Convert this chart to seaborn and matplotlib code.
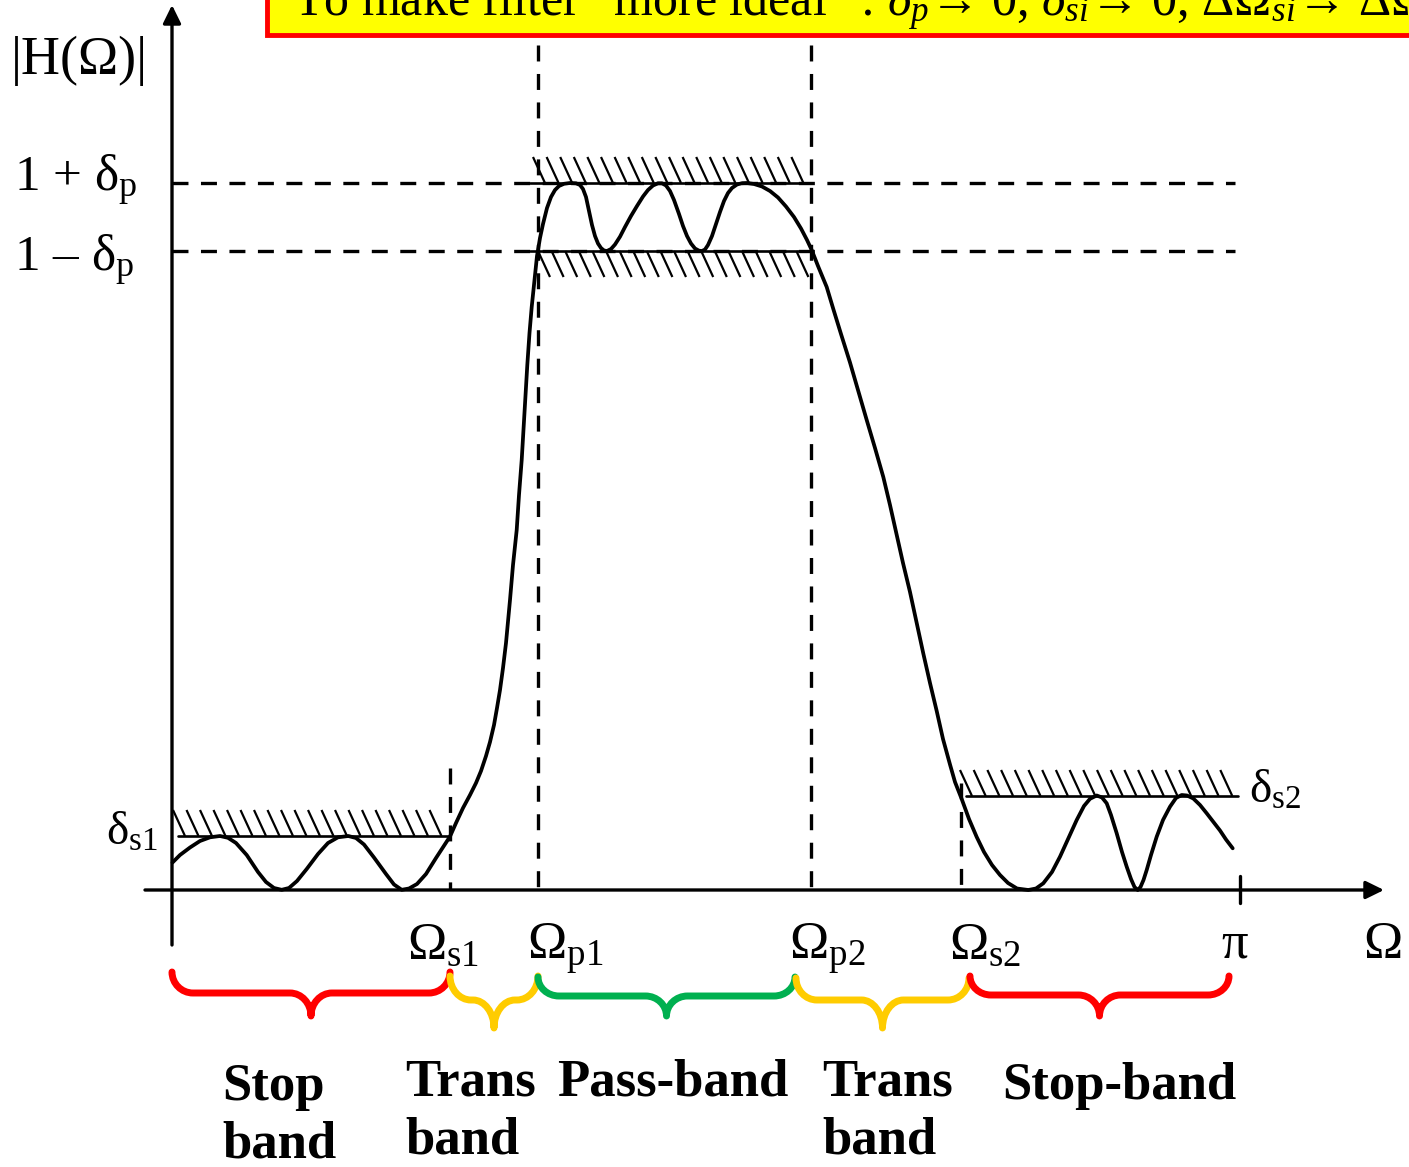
import numpy as np
import pandas as pd
import matplotlib
matplotlib.use("Agg")
import matplotlib.pyplot as plt
import seaborn as sns
from matplotlib.path import Path
from matplotlib.patches import PathPatch, Rectangle
from matplotlib.collections import LineCollection

# ---------------- data (canvas units: x right, y down) ----------------
stop1_x = [172.5, 180, 190, 200, 210, 220, 228, 236, 246.7, 258, 266, 274, 281.7, 289, 297,
           306.7, 318, 328, 338, 348.3, 356, 364, 374, 386, 394, 401.7, 409, 417, 426, 436]
stop1_y = [862.5, 855, 847.5, 841, 837.3, 836, 837.8, 843, 855, 872, 882, 888, 889.8, 888,
           881, 869, 854, 843, 837.3, 836, 838, 844.5, 857.5, 874, 884.5, 889.8, 888.5,
           884, 874, 858]
trans1_x = [450, 456, 463, 470, 476, 481, 486, 490, 494, 497, 500, 503, 506, 510, 513,
            516.7, 519, 521.7, 524.5, 527.3, 529.5, 531.7, 534.5]
trans1_y = [836.5, 823, 808, 795, 783, 771, 756, 742, 725, 708, 690, 668, 643, 600, 565,
            530, 495, 460, 412, 365, 333, 307, 280]
pass_x = [537, 540, 543, 547, 551, 555, 559, 564, 570, 576, 580, 583, 586, 589, 592, 595,
          598, 601, 604, 607, 611, 615, 620, 625, 631, 637, 643, 648, 653, 658, 662, 666,
          670, 674, 679, 683, 687, 691, 695, 699, 702, 705, 708, 712, 716, 720, 724, 728,
          732, 737, 742, 747, 754, 762, 770, 778, 786, 794, 801, 807, 811.7, 818, 826.7]
pass_y = [256, 238, 224, 208, 197, 190, 186, 183.8, 183, 183.3, 185, 189, 197, 211, 225,
          236, 243.5, 248, 250.5, 251, 249, 244.5, 236.7, 227, 216, 206, 196.5, 190, 185.5,
          183.3, 183.3, 185.5, 191, 200, 214, 226, 236, 243.5, 248.5, 250.7, 251, 249.5,
          245, 236, 224, 212, 201, 193, 188, 184.5, 183.2, 183, 184, 186.5, 191, 197.5,
          206.5, 217, 228.5, 240, 250, 266, 287]
trans2_x = [833.3, 841, 850, 858, 866.7, 875, 883.3, 890, 896.7, 903, 910, 916.5, 923.3,
            930, 936.7, 943, 950, 955]
trans2_y = [309, 334, 362.5, 390, 420, 448, 477, 505, 534.8, 563, 592, 622, 653.5, 683,
            711, 739, 764.5, 782]
stop2_x = [961.7, 969, 976.7, 984, 992, 1000, 1008, 1017, 1028.3, 1036, 1043.3, 1052, 1060,
           1068, 1076.7, 1084, 1090, 1096.7, 1102, 1106.7, 1111, 1116.7, 1122, 1126.7, 1131,
           1134.5, 1137.7, 1140.5, 1143.5, 1146.7, 1151, 1156.7, 1163, 1170, 1176, 1181.7,
           1187, 1193.3, 1200, 1206.7, 1213, 1220, 1226, 1232.7]
stop2_y = [799, 819, 837, 852, 865, 875, 883, 888.5, 890, 888.5, 883.3, 872, 856.7, 839,
           820, 806, 798.8, 795.5, 797.5, 803.3, 815, 833.3, 852, 866.7, 879, 887, 890, 887,
           880, 870, 855, 836.7, 820, 806.7, 798, 795, 795.5, 798.5, 805, 813.3, 821.5,
           830.5, 839.5, 848.3]

curve_x = stop1_x + trans1_x + pass_x + trans2_x + stop2_x
curve_y = stop1_y + trans1_y + pass_y + trans2_y + stop2_y

# band edge positions
omega_s1, omega_p1, omega_p2, omega_s2, omega_pi = 450, 538, 811, 961, 1240
level_pass_hi, level_pass_lo = 183, 251
level_stop1, level_stop2 = 836, 796
axis_y, axis_x = 890, 172

band_labels = ["Stop\nband", "Trans\nband", "Pass-band", "Trans\nband", "Stop-band"]
band_colors = ["#FF0000", "#FFCC00", "#00B050", "#FFCC00", "#FF0000"]

# ---------------- style ----------------
sns.set_theme(style="white")
plt.rcParams["font.family"] = ["Liberation Serif", "DejaVu Serif"]
plt.rcParams["text.color"] = "black"
plt.rcParams["mathtext.fontset"] = "custom"
plt.rcParams["mathtext.rm"] = "Liberation Serif"
plt.rcParams["mathtext.it"] = "Liberation Serif:italic"
plt.rcParams["mathtext.bf"] = "Liberation Serif:bold"
plt.rcParams["lines.scale_dashes"] = False

fig = plt.figure(figsize=(14.09, 11.67), dpi=100)
ax = fig.add_axes([0, 0, 1, 1])
ax.set_xlim(0, 1409)
ax.set_ylim(1167, 0)
ax.axis("off")

LW = 2.4
DASH = (11.5, 9.0)

# banner
ax.add_patch(Rectangle((267, -30), 1300, 65, facecolor="#FFFF00", edgecolor="#FF0000",
                       lw=3.5, zorder=5))
ax.text(293, 16, "To make filter “more ideal” : $δ_p$→ 0, $δ_{si}$→ 0, $ΔΩ_{si}$→ $ΔΩ$",
        fontsize=36, ha="left", va="baseline", zorder=6, color="black")

# axes with arrows
ax.annotate("", xy=(axis_x, 5), xytext=(axis_x, 945),
            arrowprops=dict(arrowstyle="-|>,head_length=0.55,head_width=0.27", lw=LW,
                            color="black", mutation_scale=20, shrinkA=0, shrinkB=0))
ax.annotate("", xy=(1384, axis_y), xytext=(145, axis_y),
            arrowprops=dict(arrowstyle="-|>,head_length=0.55,head_width=0.27", lw=LW,
                            color="black", mutation_scale=20, shrinkA=0, shrinkB=0))
ax.plot([omega_pi, omega_pi], [876, 903], color="black", lw=LW)

# dashed guide lines
for yv in (level_pass_hi, level_pass_lo):
    ax.plot([axis_x, 1235], [yv, yv], color="black", lw=LW, dashes=DASH)
for xv, ytop in ((omega_p1, 45), (omega_p2, 45), (omega_s1, 768), (omega_s2, 783)):
    ax.plot([xv, xv], [ytop, axis_y], color="black", lw=LW, dashes=DASH)

# tolerance bands with hatching
def hatch_band(x_start, x_end, y_line, side, x_first, n, step=13.6):
    ax.plot([x_start, x_end], [y_line, y_line], color="black", lw=1.9)
    segs = []
    for i in range(n):
        xt = x_first + i * step
        if side == "above":
            segs.append([(xt, y_line - 26), (xt + 12, y_line)])
        else:
            segs.append([(xt, y_line), (xt + 12, y_line + 26)])
    ax.add_collection(LineCollection(segs, colors="black", linewidths=1.6))

hatch_band(530, 805, level_pass_hi, "above", 533, 20)
hatch_band(530, 810, level_pass_lo, "below", 538, 20)
hatch_band(178, 450, level_stop1, "above", 173, 20, 13.5)
hatch_band(966, 1238, level_stop2, "above", 960, 20, 13.7)

# magnitude response curve
df = pd.DataFrame({"x": curve_x, "y": curve_y})
sns.lineplot(data=df, x="x", y="y", sort=False, estimator=None, color="black",
             lw=2.7, ax=ax)
ax.lines[-1].set_solid_joinstyle("round")
ax.set_xlim(0, 1409)
ax.set_ylim(1167, 0)
ax.axis("off")

# labels
ax.text(11, 74, "|H(Ω)|", fontsize=39, ha="left", va="baseline")
ax.text(14, 191, "1 + δ$_\\mathrm{p}$", fontsize=37, ha="left", va="baseline")
ax.text(14, 271, "1 – δ$_\\mathrm{p}$", fontsize=37, ha="left", va="baseline")
ax.text(106, 845, r"$\mathrm{δ_{s1}}$", fontsize=34, ha="left", va="baseline")
ax.text(1249, 803, r"$\mathrm{δ_{s2}}$", fontsize=34, ha="left", va="baseline")
for xl, sub in ((407, "s1"), (527, "p1"), (789, "p2"), (949, "s2")):
    ax.text(xl, 959, r"$\mathrm{Ω_{%s}}$" % sub, fontsize=38, ha="left", va="baseline")
ax.text(1221, 958, "π", fontsize=38, ha="left", va="baseline")
ax.text(1363, 958, "Ω", fontsize=38, ha="left", va="baseline")

# braces
def brace(x0, x1, y_end, y_mid, y_tip, color, r=21):
    xc = (x0 + x1) / 2
    k = 0.55
    dy1 = y_mid - y_end
    dy2 = y_tip - y_mid
    verts = [
        (x0, y_end),
        (x0, y_end + k * dy1), (x0 + r * (1 - k), y_mid), (x0 + r, y_mid),
        (xc - r, y_mid),
        (xc - r * (1 - k), y_mid), (xc, y_mid + dy2 * (1 - k)), (xc, y_tip),
        (xc, y_mid + dy2 * (1 - k)), (xc + r * (1 - k), y_mid), (xc + r, y_mid),
        (x1 - r, y_mid),
        (x1 - r * (1 - k), y_mid), (x1, y_end + k * dy1), (x1, y_end),
    ]
    codes = [Path.MOVETO, Path.CURVE4, Path.CURVE4, Path.CURVE4, Path.LINETO,
             Path.CURVE4, Path.CURVE4, Path.CURVE4, Path.CURVE4, Path.CURVE4, Path.CURVE4,
             Path.LINETO, Path.CURVE4, Path.CURVE4, Path.CURVE4]
    ax.add_patch(PathPatch(Path(verts, codes), facecolor="none", edgecolor=color,
                           lw=5, capstyle="round", joinstyle="round"))

brace_x = [(172, 450), (450, 538), (538, 795), (796, 969), (970, 1229)]
brace_y = [(972, 993, 1016), (976, 1000, 1028), (977, 996, 1016), (978, 1000, 1028),
           (976, 995, 1016)]
for (x0, x1), (ye, ym, yt), c in zip(brace_x, brace_y, band_colors):
    brace(x0, x1, ye, ym, yt, c)

label_pos = [(222, 1100), (405, 1095), (557, 1095), (822, 1095), (1002, 1099)]
for lab, (xl, yl) in zip(band_labels, label_pos):
    for j, line in enumerate(lab.split("\n")):
        ax.text(xl, yl + 58 * j, line, fontsize=38, fontweight="bold", ha="left",
                va="baseline")

fig.savefig("out.png", dpi=100)
